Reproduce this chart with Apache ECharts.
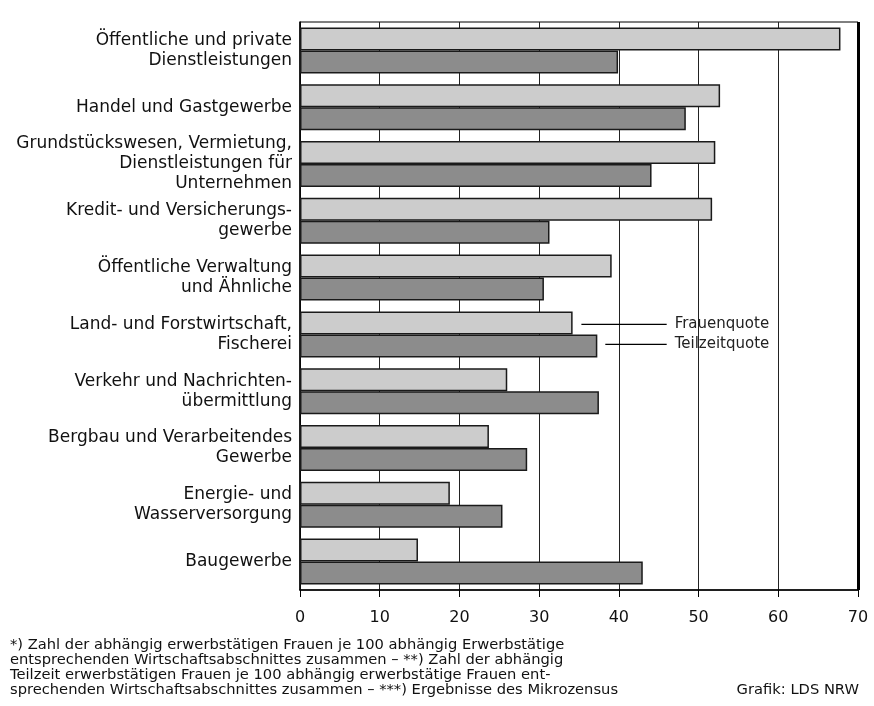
<!DOCTYPE html>
<html>
<head>
<meta charset="utf-8">
<script src="https://cdn.jsdelivr.net/npm/echarts@6/dist/echarts.min.js"></script>
<style>
  html, body { margin: 0; padding: 0; background: #fff; }
  #chart { width: 874px; height: 706px; }
</style>
</head>
<body>
<div id="chart"></div>
<script>
const categories = [
  'Öffentliche und private\nDienstleistungen',
  'Handel und Gastgewerbe',
  'Grundstückswesen, Vermietung,\nDienstleistungen für\nUnternehmen',
  'Kredit- und Versicherungs-\ngewerbe',
  'Öffentliche Verwaltung\nund Ähnliche',
  'Land- und Forstwirtschaft,\nFischerei',
  'Verkehr und Nachrichten-\nübermittlung',
  'Bergbau und Verarbeitendes\nGewerbe',
  'Energie- und\nWasserversorgung',
  'Baugewerbe'
];
const frauenquote   = [67.8, 52.7, 52.1, 51.7, 39.1, 34.2, 26.0, 23.7, 18.8, 14.8];
const teilzeitquote = [39.9, 48.4, 44.1, 31.3, 30.6, 37.3, 37.5, 28.5, 25.4, 43.0];
const xTicks = [0, 10, 20, 30, 40, 50, 60, 70];
const seriesNames = ['Frauenquote', 'Teilzeitquote'];
const footnoteLines = [
  '*) Zahl der abhängig erwerbstätigen Frauen je 100 abhängig Erwerbstätige',
  'entsprechenden Wirtschaftsabschnittes zusammen – **) Zahl der abhängig',
  'Teilzeit erwerbstätigen Frauen je 100 abhängig erwerbstätige Frauen ent-',
  'sprechenden Wirtschaftsabschnittes zusammen – ***) Ergebnisse des Mikrozensus'
];
const sourceText = 'Grafik: LDS NRW';

const FONT = '"DejaVu Sans", "Noto Sans", sans-serif';
const chart = echarts.init(document.getElementById('chart'), null, { renderer: 'canvas' });

const option = {
  animation: false,
  backgroundColor: '#fff',
  grid: {
    left: 300, right: 16, top: 22, bottom: 116,
    show: true, borderColor: '#000', borderWidth: 1, backgroundColor: 'transparent'
  },
  xAxis: {
    type: 'value', min: xTicks[0], max: xTicks[xTicks.length - 1], interval: 10,
    axisLine: { show: true, lineStyle: { color: '#000', width: 1.5 } },
    axisTick: { show: true, length: 7, lineStyle: { color: '#000', width: 1 } },
    axisLabel: { color: '#111', fontFamily: FONT, fontSize: 16, margin: 20 },
    splitLine: { show: true, lineStyle: { color: '#222', width: 1 } }
  },
  yAxis: {
    type: 'category', data: categories, inverse: true,
    axisLine: { show: true, onZero: false, lineStyle: { color: '#000', width: 1.5 } },
    axisTick: { show: false },
    axisLabel: { color: '#111', fontFamily: FONT, fontSize: 17, lineHeight: 20, margin: 8, align: 'right', padding: [4, 0, 0, 0] }
  },
  series: [
    {
      name: seriesNames[0], type: 'bar', data: frauenquote, barWidth: 23, barGap: '0%',
      itemStyle: { color: '#cccccc', borderColor: '#1a1a1a', borderWidth: 1.5 },
      z: 3,
      markLine: {
        silent: true, symbol: 'none', label: { show: false },
        lineStyle: { color: '#000', width: 3, type: 'solid' },
        data: [{ xAxis: xTicks[xTicks.length - 1] }]
      }
    },
    {
      name: seriesNames[1], type: 'bar', data: teilzeitquote, barWidth: 23, barGap: '0%',
      itemStyle: { color: '#8c8c8c', borderColor: '#1a1a1a', borderWidth: 1.5 },
      z: 3
    }
  ]
};
chart.setOption(option);

// Annotation (legend) lines anchored to the "Land- und Forstwirtschaft" bars
const idx = 5;
const pA = chart.convertToPixel({ gridIndex: 0 }, [35.3, idx]);
const pB = chart.convertToPixel({ gridIndex: 0 }, [38.3, idx]);
const pEnd = chart.convertToPixel({ gridIndex: 0 }, [46.0, idx]);
const pText = chart.convertToPixel({ gridIndex: 0 }, [47.0, idx]);
const yLight = pA[1] - 10, yDark = pA[1] + 10;

const graphics = [
  { type: 'line', shape: { x1: pA[0], y1: yLight, x2: pEnd[0], y2: yLight }, style: { stroke: '#000', lineWidth: 1.2 }, z: 10 },
  { type: 'line', shape: { x1: pB[0], y1: yDark, x2: pEnd[0], y2: yDark }, style: { stroke: '#000', lineWidth: 1.2 }, z: 10 },
  { type: 'text', x: pText[0], y: yLight, style: { text: seriesNames[0], font: '15px ' + FONT, fill: '#222', textVerticalAlign: 'middle', textBaseline: 'middle' }, z: 10 },
  { type: 'text', x: pText[0], y: yDark, style: { text: seriesNames[1], font: '15px ' + FONT, fill: '#222', textVerticalAlign: 'middle', textBaseline: 'middle' }, z: 10 }
];
footnoteLines.forEach((t, i) => {
  graphics.push({ type: 'text', x: 10, y: 645 + i * 15, style: { text: t, font: '14.7px ' + FONT, fill: '#111', textVerticalAlign: 'middle', textBaseline: 'middle' } });
});
graphics.push({ type: 'text', x: 859, y: 690, style: { text: sourceText, font: '14.7px ' + FONT, fill: '#111', textAlign: 'right', textVerticalAlign: 'middle', textBaseline: 'middle' } });

chart.setOption({ graphic: graphics });
</script>
</body>
</html>
